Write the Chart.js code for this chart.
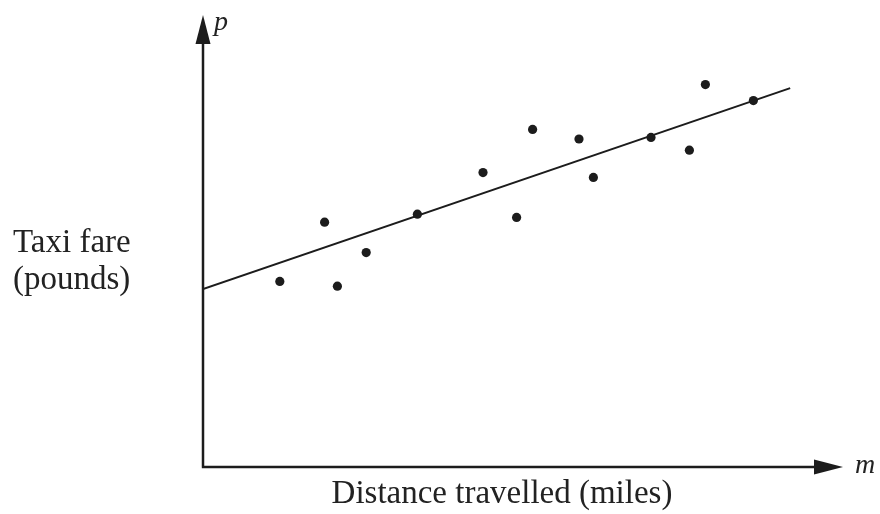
<!DOCTYPE html>
<html>
<head>
<meta charset="utf-8">
<script src="https://cdn.jsdelivr.net/npm/chart.js@4"></script>
<style>
  html, body { margin: 0; padding: 0; background: #fff; }
  #wrap { width: 880px; height: 514px; }
</style>
</head>
<body>
<div id="wrap"><canvas id="fareChart"></canvas></div>
<script>
// distance (m) and fare (p) of each trip
const distances = [2.4, 3.8, 4.2, 5.1, 6.7, 8.75, 9.8, 10.3, 11.75, 12.2, 14.0, 15.2, 15.7, 17.2]
const fares = [5.8, 7.65, 5.65, 6.7, 7.9, 9.2, 7.8, 10.55, 10.25, 9.05, 10.3, 9.9, 11.95, 11.45]

// line of best fit, start and end
const fitX = [0, 18.35]
const fitY = [5.56, 11.84]

const xLabel = 'Distance travelled (miles)'
const yLabel = ['Taxi fare', '(pounds)']
const xName = 'm'
const yName = 'p'

const ink = '#1c1c1c'

const axesPlugin = {
    id: 'axesPlugin',
    afterDraw(chart) {
        const ctx = chart.ctx
        const x = chart.scales.x
        const y = chart.scales.y
        const ox = x.getPixelForValue(0)
        const oy = y.getPixelForValue(0)
        const xEnd = x.getPixelForValue(20)
        const yEnd = 15
        ctx.save()
        ctx.strokeStyle = ink
        ctx.fillStyle = ink
        ctx.lineWidth = 2.5
        ctx.beginPath()
        ctx.moveTo(ox, oy)
        ctx.lineTo(ox, yEnd + 20)
        ctx.moveTo(ox - 1.2, oy)
        ctx.lineTo(xEnd - 20, oy)
        ctx.stroke()
        // arrow heads
        ctx.beginPath()
        ctx.moveTo(ox, yEnd)
        ctx.lineTo(ox - 7.5, yEnd + 29)
        ctx.lineTo(ox + 7.5, yEnd + 29)
        ctx.closePath()
        ctx.fill()
        ctx.beginPath()
        ctx.moveTo(xEnd, oy)
        ctx.lineTo(xEnd - 29, oy - 7.5)
        ctx.lineTo(xEnd - 29, oy + 7.5)
        ctx.closePath()
        ctx.fill()

        ctx.fillStyle = '#222'
        ctx.font = 'italic 28px "Liberation Serif", "DejaVu Serif", serif'
        ctx.textBaseline = 'alphabetic'
        ctx.textAlign = 'left'
        ctx.fillText(yName, ox + 11, 30)
        ctx.fillText(xName, xEnd + 12, oy + 6)

        ctx.font = '33px "Liberation Serif", "DejaVu Serif", serif'
        ctx.fillText(yLabel[0], 13, 252)
        ctx.fillText(yLabel[1], 13, 289)
        ctx.textAlign = 'center'
        ctx.fillText(xLabel, 502, 503)
        ctx.restore()
    }
}

new Chart(document.getElementById('fareChart'), {
    type: 'scatter',
    data: {
        datasets: [{
            label: 'trips',
            data: distances.map((d, i) => ({ x: d, y: fares[i] })),
            pointRadius: 4.6,
            pointBackgroundColor: ink,
            pointBorderWidth: 0
        }, {
            type: 'line',
            label: 'fit',
            data: fitX.map((d, i) => ({ x: d, y: fitY[i] })),
            borderColor: ink,
            borderWidth: 2,
            pointRadius: 0,
            fill: false
        }]
    },
    options: {
        responsive: true,
        maintainAspectRatio: false,
        animation: false,
        layout: {
            padding: { left: 203, right: 37, top: 19, bottom: 47 }
        },
        plugins: {
            legend: { display: false },
            tooltip: { enabled: false }
        },
        scales: {
            x: { type: 'linear', min: 0, max: 20, display: false },
            y: { type: 'linear', min: 0, max: 14, display: false }
        }
    },
    plugins: [axesPlugin]
})
</script>
</body>
</html>
